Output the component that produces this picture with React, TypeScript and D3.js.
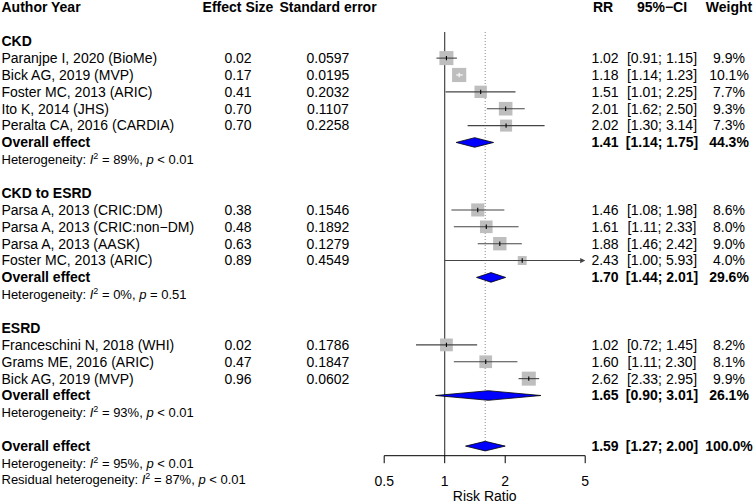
import React from "react";
import * as d3 from "d3";

const groupNames = ["CKD", "CKD to ESRD", "ESRD"];
const studyLabels = [
  "Paranjpe I, 2020 (BioMe)",
  "Bick AG, 2019 (MVP)",
  "Foster MC, 2013 (ARIC)",
  "Ito K, 2014 (JHS)",
  "Peralta CA, 2016 (CARDIA)",
  "Parsa A, 2013 (CRIC:DM)",
  "Parsa A, 2013 (CRIC:non\u2212DM)",
  "Parsa A, 2013 (AASK)",
  "Foster MC, 2013 (ARIC)",
  "Franceschini N, 2018 (WHI)",
  "Grams ME, 2016 (ARIC)",
  "Bick AG, 2019 (MVP)",
];
const studyGroup = [0, 0, 0, 0, 0, 1, 1, 1, 1, 2, 2, 2];
const effectSize = [0.02, 0.17, 0.41, 0.7, 0.7, 0.38, 0.48, 0.63, 0.89, 0.02, 0.47, 0.96];
const stdError = ["0.0597", "0.0195", "0.2032", "0.1107", "0.2258", "0.1546", "0.1892", "0.1279", "0.4549", "0.1786", "0.1847", "0.0602"];
const studyRR = [1.02, 1.18, 1.51, 2.01, 2.02, 1.46, 1.61, 1.88, 2.43, 1.02, 1.6, 2.62];
const studyLower = [0.91, 1.14, 1.01, 1.62, 1.3, 1.08, 1.11, 1.46, 1.0, 0.72, 1.11, 2.33];
const studyUpper = [1.15, 1.23, 2.25, 2.5, 3.14, 1.98, 2.33, 2.42, 5.93, 1.45, 2.3, 2.95];
const studyWeight = [9.9, 10.1, 7.7, 9.3, 7.3, 8.6, 8.0, 9.0, 4.0, 8.2, 8.1, 9.9];

const groupRR = [1.41, 1.7, 1.65];
const groupLower = [1.14, 1.44, 0.9];
const groupUpper = [1.75, 2.01, 3.01];
const groupWeight = [44.3, 29.6, 26.1];
const groupI2 = [89, 0, 93];
const groupP = ["< 0.01", "= 0.51", "< 0.01"];

const overallRR = 1.59;
const overallLower = 1.27;
const overallUpper = 2.0;
const overallWeight = 100.0;
const overallI2 = 95;
const overallP = "< 0.01";
const residualI2 = 87;
const residualP = "< 0.01";

const axisTicks = [0.5, 1, 2, 5];
const axisTickLabels = ["0.5", "1", "2", "5"];

const W = 753;
const H = 503;
const FONT = "'Liberation Sans', Arial, Helvetica, sans-serif";
const FS = 14;
const FS_HET = 13;

const rowY = (i: number) => 7.5 + i * 16.87;

const x = d3.scaleLog().domain([0.5, 5]).range([384.2, 585.2]);
const sqSize = d3.scaleSqrt().domain([0, 10]).range([0, 14.1]);

const COL_ES = 238;
const COL_SE = 328;
const COL_RR = 605;
const COL_CI = 662;
const COL_W = 729;

function HetText({ y, label, i2, p }: { y: number; label: string; i2: number; p: string }) {
  return (
    <text x={1.5} y={y} dy="0.35em" fontSize={FS_HET}>
      {label}
      <tspan fontStyle="italic">I</tspan>
      <tspan fontSize={9} dy={-5}>2</tspan>
      <tspan dy={5}>{` = ${i2}%, `}</tspan>
      <tspan fontStyle="italic">p</tspan>
      {` ${p}`}
    </text>
  );
}

function Diamond({ y, est, lo, hi }: { y: number; est: number; lo: number; hi: number }) {
  const h = 4.8;
  const pts = [
    [x(lo), y],
    [x(est), y - h],
    [x(hi), y],
    [x(est), y + h],
  ];
  return <polygon points={pts.map((p) => p.join(",")).join(" ")} fill="#0000ff" stroke="#000" strokeWidth={0.8} />;
}

function StatCols({ y, rr, lo, hi, w, bold }: { y: number; rr: number; lo: number; hi: number; w: number; bold?: boolean }) {
  const fw = bold ? "bold" : "normal";
  return (
    <g fontWeight={fw}>
      <text x={COL_RR} y={y} dy="0.35em" textAnchor="middle">{rr.toFixed(2)}</text>
      <text x={COL_CI} y={y} dy="0.35em" textAnchor="middle">{`[${lo.toFixed(2)}; ${hi.toFixed(2)}]`}</text>
      <text x={COL_W} y={y} dy="0.35em" textAnchor="middle">{`${w.toFixed(1)}%`}</text>
    </g>
  );
}

export default function App() {
  const items: React.ReactNode[] = [];
  let row = 2;
  const xMin = x.domain()[0];
  const xMax = x.domain()[1];
  const firstRow = rowY(0) + 24.5;
  const axisY = 455.7;

  groupNames.forEach((g, gi) => {
    items.push(
      <text key={`g${gi}`} x={1.5} y={rowY(row)} dy="0.35em" fontWeight="bold">{g}</text>
    );
    row++;
    studyLabels.forEach((lab, si) => {
      if (studyGroup[si] !== gi) return;
      const y = rowY(row);
      const cx = x(studyRR[si]);
      const s = sqSize(studyWeight[si]);
      const lo = Math.max(studyLower[si], xMin);
      const hi = Math.min(studyUpper[si], xMax);
      const arrowR = studyUpper[si] > xMax;
      const inside = x(lo) >= cx - s / 2 && x(hi) <= cx + s / 2;
      const lineCol = inside ? "#ffffff" : "#444";
      items.push(
        <g key={`s${si}`}>
          <text x={1.5} y={y} dy="0.35em">{lab}</text>
          <text x={COL_ES} y={y} dy="0.35em" textAnchor="middle">{effectSize[si].toFixed(2)}</text>
          <text x={COL_SE} y={y} dy="0.35em" textAnchor="middle">{stdError[si]}</text>
          <rect x={cx - s / 2} y={y - s / 2} width={s} height={s} fill="#bebebe" />
          <line x1={x(lo)} x2={x(hi) - (arrowR ? 1 : 0)} y1={y} y2={y} stroke={lineCol} strokeWidth={1.1} />
          {arrowR && (
            <path d={`M${x(hi)},${y} l-5,-2.6 l0,5.2 z`} fill="#444" />
          )}
          <line x1={cx} x2={cx} y1={y - 2.2} y2={y + 2.2} stroke={inside ? "#fff" : "#000"} strokeWidth={1.1} />
          <StatCols y={y} rr={studyRR[si]} lo={studyLower[si]} hi={studyUpper[si]} w={studyWeight[si]} />
        </g>
      );
      row++;
    });
    const yo = rowY(row);
    items.push(
      <g key={`o${gi}`}>
        <text x={1.5} y={yo} dy="0.35em" fontWeight="bold">Overall effect</text>
        <Diamond y={yo} est={groupRR[gi]} lo={groupLower[gi]} hi={groupUpper[gi]} />
        <StatCols y={yo} rr={groupRR[gi]} lo={groupLower[gi]} hi={groupUpper[gi]} w={groupWeight[gi]} bold />
      </g>
    );
    row++;
    items.push(
      <HetText key={`h${gi}`} y={rowY(row)} label="Heterogeneity: " i2={groupI2[gi]} p={groupP[gi]} />
    );
    row += 2;
  });

  const yOverall = rowY(row);

  return (
    <svg width={W} height={H} style={{ position: "absolute", left: 0, top: 0, background: "#fff" }} fontFamily={FONT} fontSize={FS}>
      <rect width={W} height={H} fill="#fff" />
      <g fontWeight="bold">
        <text x={1.5} y={rowY(0)} dy="0.35em">Author Year</text>
        <text x={COL_ES} y={rowY(0)} dy="0.35em" textAnchor="middle">Effect Size</text>
        <text x={COL_SE} y={rowY(0)} dy="0.35em" textAnchor="middle">Standard error</text>
        <text x={COL_RR - 2} y={rowY(0)} dy="0.35em" textAnchor="middle">RR</text>
        <text x={COL_CI} y={rowY(0)} dy="0.35em" textAnchor="middle">95%−CI</text>
        <text x={COL_W} y={rowY(0)} dy="0.35em" textAnchor="middle">Weight</text>
      </g>
      <line x1={x(1)} x2={x(1)} y1={firstRow} y2={axisY} stroke="#333" strokeWidth={1.1} />
      <line x1={x(overallRR)} x2={x(overallRR)} y1={firstRow} y2={yOverall - 4.8} stroke="#888" strokeWidth={1} strokeDasharray="1,2" />
      {items}
      <text x={1.5} y={yOverall} dy="0.35em" fontWeight="bold">Overall effect</text>
      <Diamond y={yOverall} est={overallRR} lo={overallLower} hi={overallUpper} />
      <StatCols y={yOverall} rr={overallRR} lo={overallLower} hi={overallUpper} w={overallWeight} bold />
      <HetText y={rowY(row + 1)} label="Heterogeneity: " i2={overallI2} p={overallP} />
      <HetText y={rowY(row + 2)} label="Residual heterogeneity: " i2={residualI2} p={residualP} />
      <line x1={x(xMin)} x2={x(xMax)} y1={axisY} y2={axisY} stroke="#000" strokeWidth={1} />
      {axisTicks.map((t, i) => (
        <g key={`t${i}`}>
          <line x1={x(t)} x2={x(t)} y1={axisY} y2={axisY + 7.5} stroke="#000" strokeWidth={1} />
          <text x={x(t)} y={481.2} dy="0.35em" textAnchor="middle">{axisTickLabels[i]}</text>
        </g>
      ))}
      <text x={(x(xMin) + x(xMax)) / 2} y={496} dy="0.35em" textAnchor="middle">Risk Ratio</text>
    </svg>
  );
}
